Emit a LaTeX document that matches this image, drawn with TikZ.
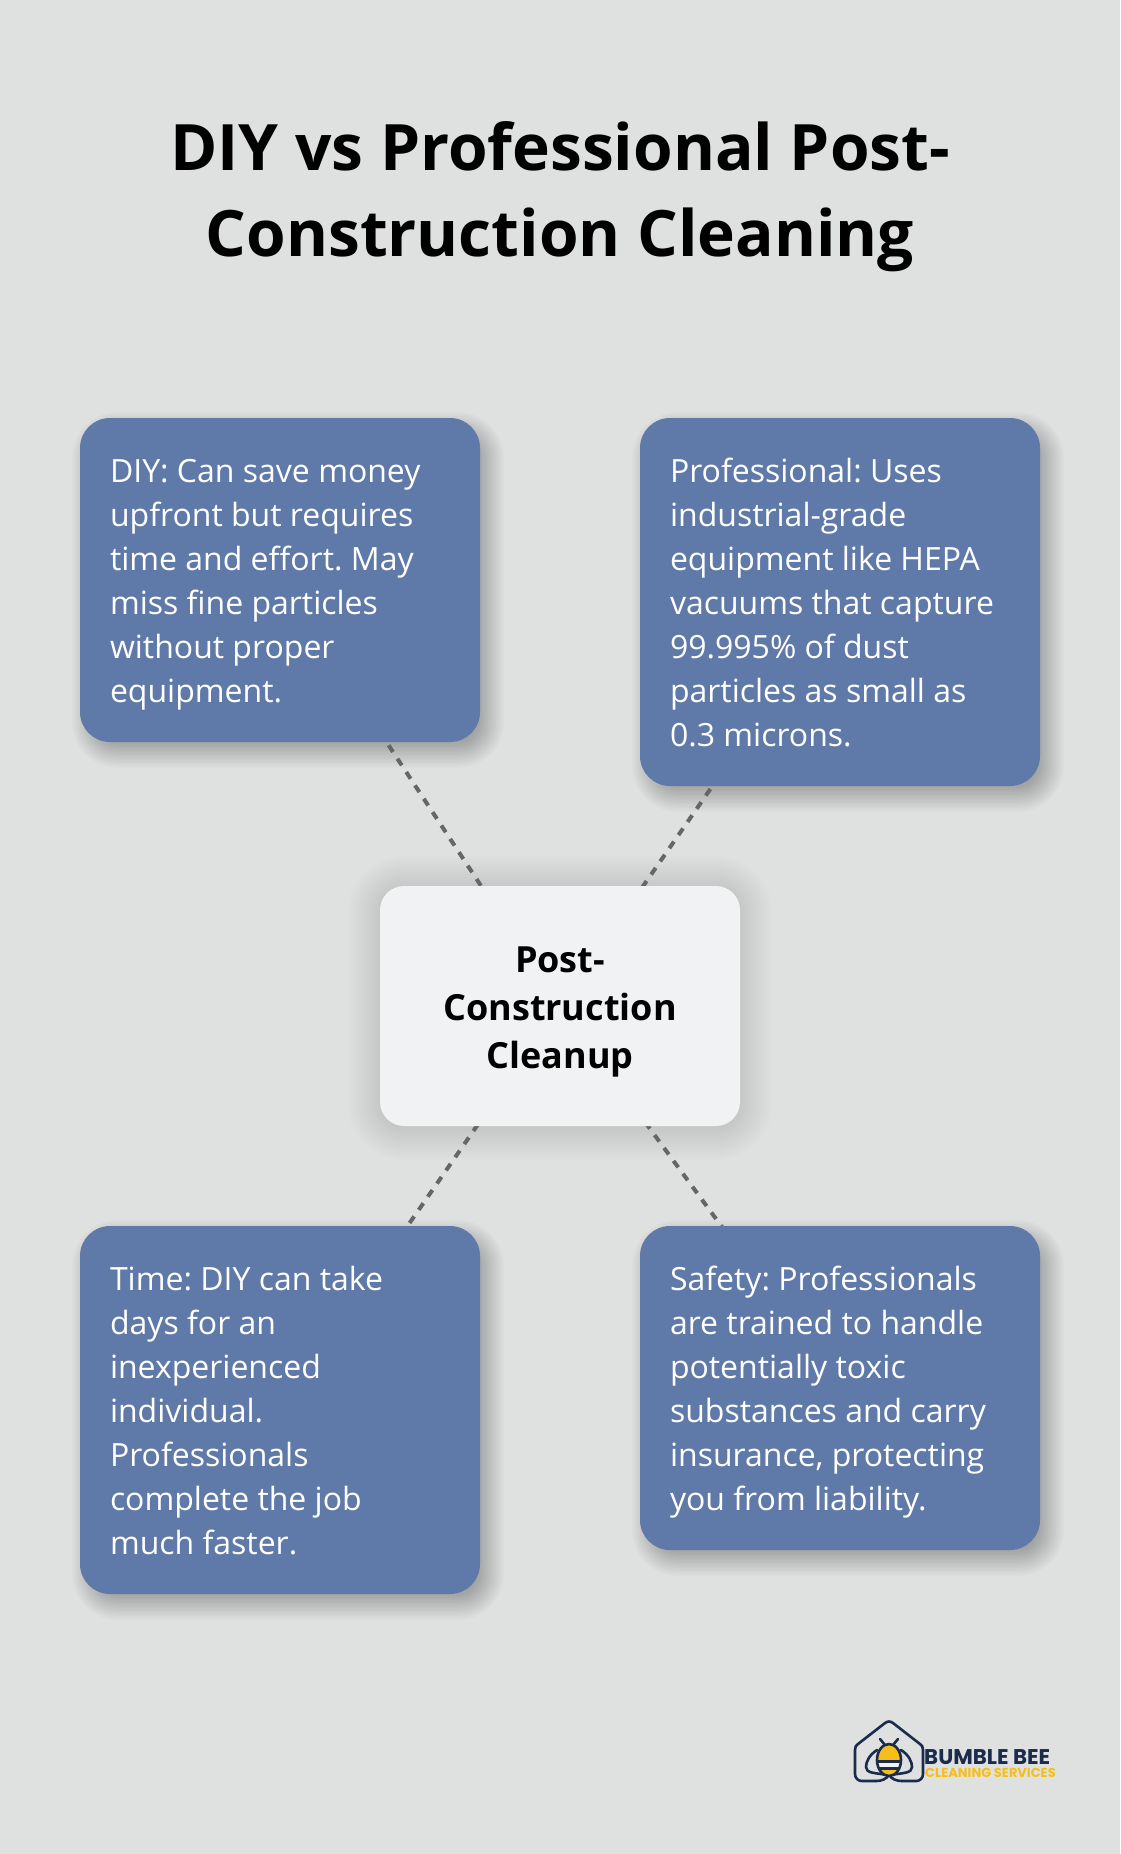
\documentclass[tikz,border=0pt]{standalone}
\usepackage{fontspec}
\setmainfont{Open Sans}
\newfontfamily\logofont{Poppins}
\usetikzlibrary{backgrounds}
\definecolor{pagebg}{HTML}{DFE1E1}
\definecolor{cardblue}{HTML}{5F79A8}
\definecolor{hubfill}{HTML}{F0F2F4}
\definecolor{linkgray}{HTML}{666666}
\definecolor{logonavy}{HTML}{1B2B4B}
\definecolor{logoyellow}{HTML}{F6BE1A}
\newcommand{\cardstrut}{\rule[-9.3pt]{0pt}{44pt}}
\newcommand{\hubstrut}{\rule[-9.3pt]{0pt}{48pt}}
\newcommand{\titlestrut}{\rule[-26pt]{0pt}{86pt}}
\newcommand{\cardspacing}{\spaceskip=8.3pt\relax}
\tikzset{
  x=1pt,y=-1pt,
  card/.style={fill=cardblue,rounded corners=30pt,minimum width=400pt,text=white,
    text width=340pt,inner xsep=30pt,inner ysep=0pt,align=left,anchor=center,
    font=\frenchspacing\fontsize{32}{44}\selectfont},
  hub/.style={fill=hubfill,rounded corners=24pt,minimum width=360pt,minimum height=240pt,
    text=black,align=center,inner sep=0pt,font=\frenchspacing\fontsize{36}{48}\selectfont\bfseries},
  link/.style={draw=linkgray,line width=4pt,dash pattern=on 8pt off 8pt},
  titletext/.style={align=center,text=black,inner sep=0pt,font=\frenchspacing\fontsize{64}{86}\selectfont\bfseries},
  logoline/.style={draw=logonavy,line width=2.6pt,line cap=round,line join=round}
}
% soft shadow behind a named box
\newcommand{\softshadow}[6]{% node, dx, dy, spread, radius, opacity
  \begin{scope}[on background layer]
  \foreach \k in {0,...,23}{
    \pgfmathsetmacro{\gr}{#4*(1-\k/12)}
    \fill[black,opacity=#6,rounded corners={max(#5+\gr,1)*1pt}]
      ([xshift=#2pt-\gr pt,yshift=-#3pt+\gr pt]#1.north west) rectangle
      ([xshift=#2pt+\gr pt,yshift=-#3pt-\gr pt]#1.south east);
  }
  \end{scope}}
\begin{document}
\begin{tikzpicture}
\useasboundingbox (0,0) rectangle (1120,1854);
\begin{scope}[on background layer]
\fill[pagebg] (0,0) rectangle (1120,1854);
\end{scope}

\node[titletext] (title) at (560,196) {\titlestrut DIY vs Professional Post-\\\titlestrut Construction Cleaning};

\node[card,minimum height=324pt] (tl) at (280,580) {\cardspacing\cardstrut DIY: Can save money\\upfront but requires\\time and effort. May\\miss fine particles\\without proper\\\cardstrut equipment.};
\node[card,minimum height=368pt] (tr) at (840,602) {\cardspacing\cardstrut Professional: Uses\\industrial-grade\\equipment like HEPA\\vacuums that capture\\99.995\% of dust\\particles as small as\\\cardstrut 0.3 microns.};
\node[card,minimum height=368pt] (bl) at (280,1410) {\cardspacing\cardstrut Time: DIY can take\\days for an\\inexperienced\\individual.\\Professionals\\complete the job\\\cardstrut much faster.};
\node[card,minimum height=324pt] (br) at (840,1388) {\cardspacing\cardstrut Safety: Professionals\\are trained to handle\\potentially toxic\\substances and carry\\insurance, protecting\\\cardstrut you from liability.};
\node[hub] (hub) at (560,1006) {\hubstrut Post-\\Construction\\\hubstrut Cleanup};

\softshadow{tl}{8}{10}{16}{30}{0.0125}
\softshadow{tr}{8}{10}{16}{30}{0.0125}
\softshadow{bl}{8}{10}{16}{30}{0.0125}
\softshadow{br}{8}{10}{16}{30}{0.0125}
\softshadow{hub}{0}{2}{32}{24}{0.0065}
\begin{scope}[on background layer]
  \draw[link] (hub.center) -- (tl.center);
  \draw[link] (hub.center) -- (tr.center);
  \draw[link] (hub.center) -- (bl.center);
  \draw[link] (hub.center) -- (br.center);
\end{scope}

% logo
\draw[logoline] (876,1781) -- (862,1781) .. controls (858,1781) and (855,1778) .. (855,1774)
  -- (855,1750) .. controls (855,1747) and (856,1745) .. (858,1744)
  -- (885,1723) .. controls (888,1721) and (890,1721) .. (893,1723)
  -- (920,1744) .. controls (922,1745) and (923,1747) .. (923,1750)
  -- (923,1774) .. controls (923,1778) and (920,1781) .. (916,1781) -- (902,1781);
% wings
\draw[logoline] (876,1781) .. controls (882,1781) and (886,1779) .. (889,1775)
  .. controls (892,1779) and (896,1781) .. (902,1781);
\draw[logoline] (877,1750) .. controls (869,1755) and (866,1762) .. (866,1767)
  .. controls (866,1773) and (874,1773) .. (889,1775)
  .. controls (904,1773) and (912,1773) .. (912,1767)
  .. controls (912,1762) and (909,1755) .. (901,1750);
% body
\fill[hubfill] (889,1760) ellipse (12pt and 16pt);
\begin{scope}
  \clip (889,1760) ellipse (12pt and 16pt);
  \fill[logoyellow] (877,1744) rectangle (901,1761);
  \fill[logoyellow] (877,1769) rectangle (901,1776);
  \fill[logonavy] (877,1760) rectangle (901,1762.5);
  \fill[logonavy] (877,1767) rectangle (901,1769.5);
\end{scope}
\draw[logoline] (889,1760) ellipse (12pt and 16pt);
% antennae
\draw[logoline] (885,1745) -- (880,1739) (893,1745) -- (898,1739);
\node[text=logonavy,inner sep=0pt,anchor=base west,font=\logofont\fontsize{21.3}{22}\selectfont\bfseries] (logoa) at (924,1764) {BUMBLE BEE};
\node[text=logoyellow,inner sep=0pt,anchor=base west,font=\logofont\fontsize{13}{14}\selectfont\bfseries] (logob) at (925,1777.5) {CLEANING SERVICES};
\end{tikzpicture}
\end{document}
